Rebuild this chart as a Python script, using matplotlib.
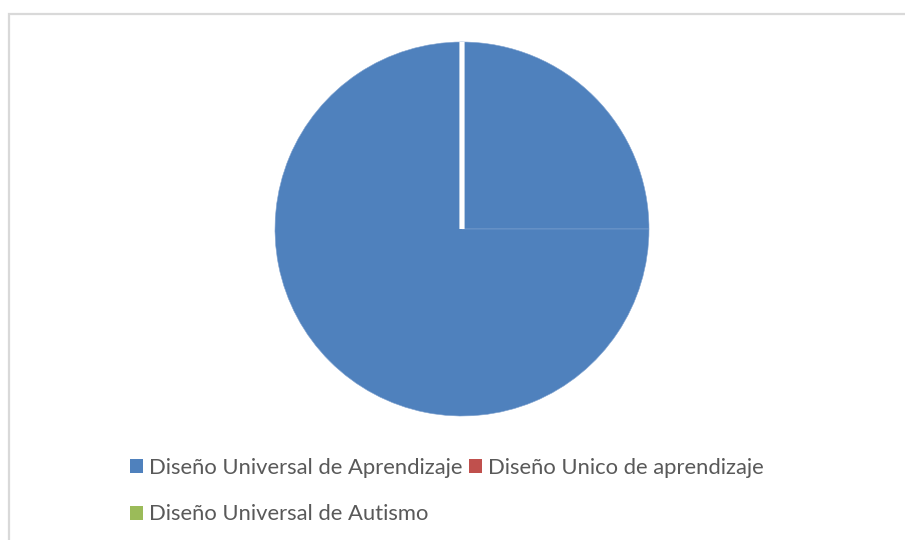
import matplotlib
matplotlib.use("Agg")
import matplotlib.pyplot as plt
from matplotlib.patches import Patch, Rectangle

plt.rcParams['font.family'] = ['Lato', 'DejaVu Sans']

categories = ["Diseño Universal de Aprendizaje",
              "Diseño Unico de aprendizaje",
              "Diseño Universal de Autismo"]
category_colors = ["#4F81BD", "#C0504D", "#9BBB59"]

# pie slices (values) and the category each slice belongs to
slice_values = [1, 3, 0, 0]
slice_category = [0, 0, 1, 2]

W, H = 905, 540
fig = plt.figure(figsize=(W / 100, H / 100), dpi=100)

# chart border
fig.patches.append(Rectangle((8.5 / W, -0.1), 1.2, 1 - 13.5 / H + 0.1,
                             transform=fig.transFigure, fill=False,
                             ec="#d9d9d9", lw=1.6, zorder=0))

cx, cy, r = 462, 229, 187
ax = fig.add_axes([(cx - r) / W, 1 - (cy + r) / H, 2 * r / W, 2 * r / H])
wedges, _ = ax.pie(slice_values,
                   colors=[category_colors[c] for c in slice_category],
                   startangle=90, counterclock=False, radius=1,
                   wedgeprops=dict(edgecolor="white", linewidth=0))
for w, v in zip(wedges, slice_values):
    if v == 0:
        w.set_linewidth(3.4)
        w.set_edgecolor("white")
    else:
        w.set_linewidth(0.4)
        w.set_edgecolor("#7FA2D0")
ax.set_xlim(-1, 1)
ax.set_ylim(-1, 1)
ax.set_aspect("auto")
ax.axis("off")

handles = [Patch(facecolor=category_colors[i], edgecolor="none", label=categories[i])
           for i in range(3)]
order = [0, 2, 1]
leg = fig.legend([handles[i] for i in order], [categories[i] for i in order],
                 loc="upper left", bbox_to_anchor=(130 / W, 1 - 458 / H),
                 ncol=2, frameon=False, fontsize=15.8, borderpad=0,
                 borderaxespad=0,
                 handlelength=0.6, handleheight=0.6, handletextpad=0.27,
                 columnspacing=0.27, labelspacing=1.2,
                 labelcolor="#595959")

fig.savefig("out.png", dpi=100)
